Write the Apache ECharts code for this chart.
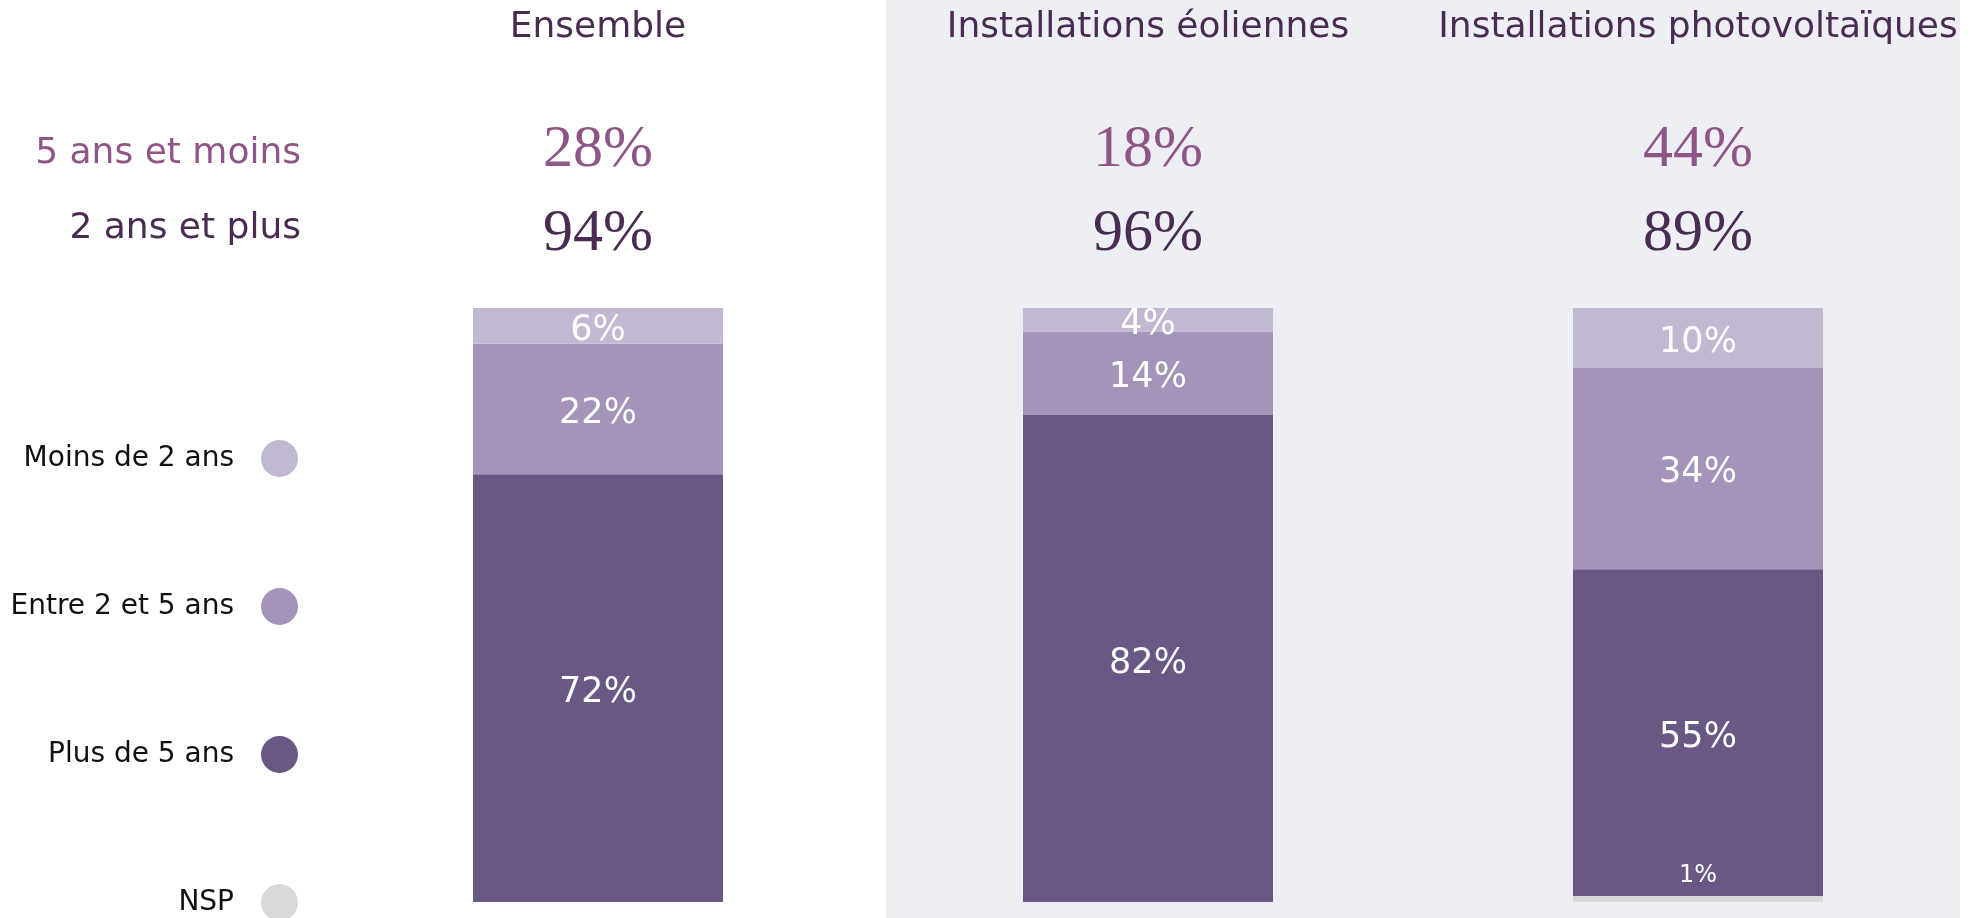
<!DOCTYPE html>
<html>
<head>
<meta charset="utf-8">
<script src="https://cdn.jsdelivr.net/npm/echarts@6/dist/echarts.min.js"></script>
<style>
html,body{margin:0;padding:0;background:#ffffff;}
#chart{width:1982px;height:918px;}
</style>
</head>
<body>
<div id="chart"></div>
<script>
// ---- data ----
const categories = ['Ensemble', 'Installations éoliennes', 'Installations photovoltaïques'];
const moinsDe2 = [6, 4, 10];
const entre2et5 = [22, 14, 34];
const plusDe5 = [72, 82, 55];
const nsp = [0, 0, 1];
const cinqAnsEtMoins = [28, 18, 44];
const deuxAnsEtPlus = [94, 96, 89];
const seriesNames = ['Moins de 2 ans', 'Entre 2 et 5 ans', 'Plus de 5 ans', 'NSP'];
const rowLabels = ['5 ans et moins', '2 ans et plus'];

// ---- styles ----
const C_LIGHT = '#C3B8D2', C_MID = '#A594B9', C_DARK = '#6A5884', C_NSP = '#D9D9D9';
const C_TITLE = '#4A2B52', C_PINK = '#8E5587';
const SANS = '"DejaVu Sans", "Noto Sans", sans-serif';
const SERIF = '"Liberation Serif", "DejaVu Serif", serif';

const chart = echarts.init(document.getElementById('chart'));

function lbl(size, pos, offset) {
  return {
    show: true,
    position: pos || 'inside',
    offset: offset || [0, 0],
    color: '#ffffff',
    fontFamily: SANS,
    fontSize: size,
    formatter: p => (p.value > 0 ? p.value + '%' : '')
  };
}

const option = {
  backgroundColor: '#ffffff',
  animation: false,
  graphic: [
    { type: 'rect', z: -10, shape: { x: 886, y: 0, width: 1074, height: 918 }, style: { fill: '#EEEFF5' }, silent: true },
    { type: 'text', x: 301, y: 154, style: { text: rowLabels[0], fill: C_PINK, font: '36px ' + SANS, textAlign: 'right', textVerticalAlign: 'middle' } },
    { type: 'text', x: 301, y: 229, style: { text: rowLabels[1], fill: C_TITLE, font: '36px ' + SANS, textAlign: 'right', textVerticalAlign: 'middle' } }
  ],
  legend: {
    data: seriesNames,
    orient: 'vertical',
    align: 'right',
    right: 1684,
    top: 440,
    height: 520,
    padding: 0,
    icon: 'circle',
    itemWidth: 37,
    itemHeight: 37,
    itemGap: 111,
    selectedMode: false,
    textStyle: { fontFamily: SANS, fontSize: 28, color: '#111111', padding: [0, 22, 0, 0] }
  },
  grid: { left: 323, right: 9, top: 308, bottom: 16 },
  xAxis: [
    {
      type: 'category', data: categories, position: 'bottom',
      axisLine: { show: false }, axisTick: { show: false }, axisLabel: { show: false }
    },
    {
      type: 'category', data: categories, position: 'top',
      axisLine: { show: false }, axisTick: { show: false },
      axisLabel: {
        interval: 0,
        margin: 32,
        formatter: (v, i) => '{t|' + v + '}\n{a|' + cinqAnsEtMoins[i] + '%}\n{b|' + deuxAnsEtPlus[i] + '%}',
        rich: {
          t: { fontFamily: SANS, fontSize: 36, color: C_TITLE, lineHeight: 160 },
          a: { fontFamily: SERIF, fontSize: 60, color: C_PINK, lineHeight: 84 },
          b: { fontFamily: SERIF, fontSize: 60, color: C_TITLE, lineHeight: 84 }
        }
      }
    }
  ],
  yAxis: {
    type: 'value', min: 0, max: 100, show: false, splitLine: { show: false }
  },
  series: [
    { name: seriesNames[3], type: 'bar', stack: 's', barWidth: 250, data: nsp,
      itemStyle: { color: C_NSP }, label: Object.assign(lbl(24, 'top'), { distance: 8 }) },
    { name: seriesNames[2], type: 'bar', stack: 's', barWidth: 250, data: plusDe5,
      itemStyle: { color: C_DARK }, label: lbl(35, 'inside', [0, 5]) },
    { name: seriesNames[1], type: 'bar', stack: 's', barWidth: 250, data: entre2et5,
      itemStyle: { color: C_MID }, label: lbl(35, 'inside', [0, 5]) },
    { name: seriesNames[0], type: 'bar', stack: 's', barWidth: 250, data: moinsDe2,
      itemStyle: { color: C_LIGHT }, label: lbl(35, 'inside', [0, 5]) }
  ]
};
chart.setOption(option);
</script>
</body>
</html>
